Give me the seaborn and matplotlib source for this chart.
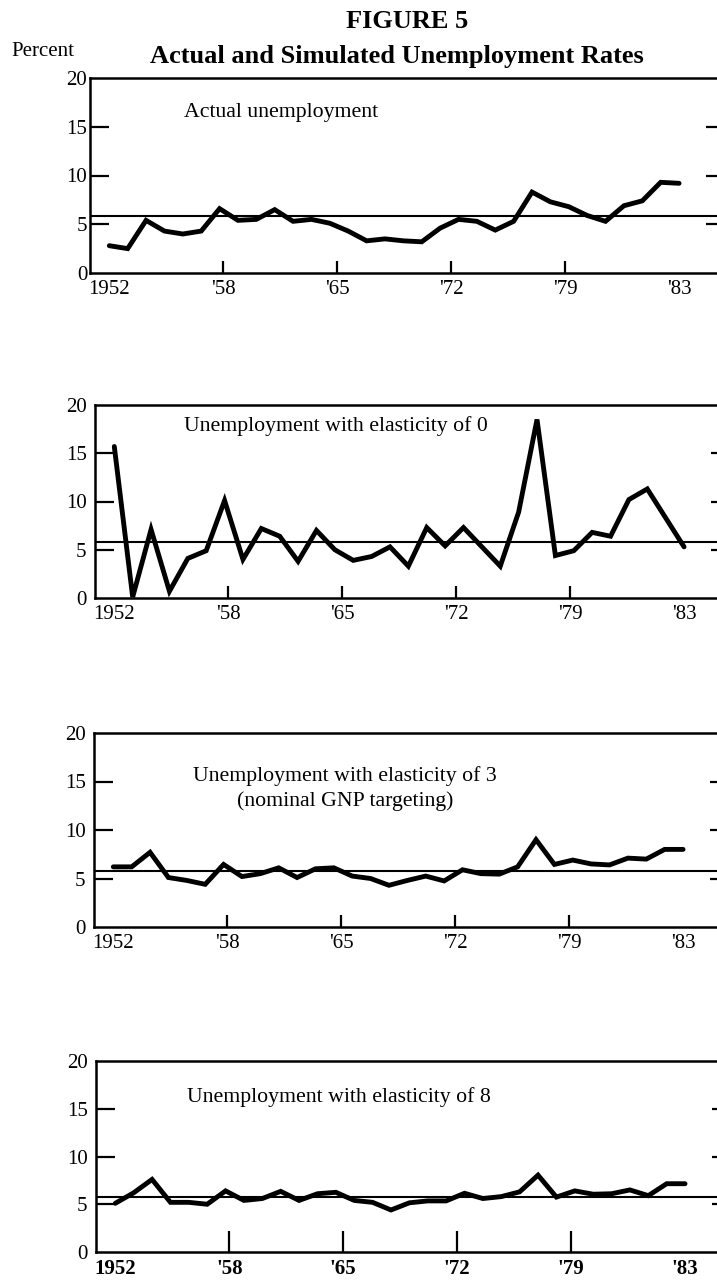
import numpy as np
import pandas as pd
import matplotlib
matplotlib.use("Agg")
import matplotlib.pyplot as plt
import seaborn as sns

# Annual unemployment rates, percent, 1952-1983
years = list(range(1952, 1984))
actual = [2.8, 2.5, 5.4, 4.3, 4.0, 4.3, 6.6, 5.4, 5.5, 6.5, 5.3, 5.5, 5.1, 4.3, 3.3, 3.5,
          3.3, 3.2, 4.6, 5.5, 5.3, 4.4, 5.3, 8.3, 7.3, 6.8, 5.9, 5.3, 6.9, 7.4, 9.3, 9.2]
elasticity_0 = [15.7, 0.1, 7.1, 0.7, 4.1, 4.9, 10.1, 4.0, 7.2, 6.4, 3.8, 7.0, 5.0, 3.9, 4.3, 5.3,
                3.3, 7.3, 5.4, 7.3, 5.3, 3.3, 8.9, 18.5, 4.4, 4.9, 6.8, 6.4, 10.2, 11.3, 8.3, 5.3]
elasticity_3 = [6.2, 6.2, 7.7, 5.1, 4.8, 4.4, 6.45, 5.2, 5.5, 6.1, 5.1, 6.0, 6.1, 5.25, 5.0, 4.3,
                4.8, 5.25, 4.75, 5.9, 5.5, 5.45, 6.2, 9.0, 6.45, 6.9, 6.5, 6.4, 7.1, 7.0, 8.0, 8.0]
elasticity_8 = [5.1, 6.2, 7.6, 5.2, 5.2, 5.0, 6.4, 5.4, 5.6, 6.35, 5.4, 6.1, 6.25, 5.4, 5.2, 4.4,
                5.15, 5.35, 5.35, 6.15, 5.6, 5.8, 6.3, 8.05, 5.75, 6.4, 6.05, 6.1, 6.5, 5.9, 7.15, 7.15]
benchmark_rate = 5.8

panel_titles = [
    ["Actual unemployment"],
    ["Unemployment with elasticity of 0"],
    ["Unemployment with elasticity of 3", "(nominal GNP targeting)"],
    ["Unemployment with elasticity of 8"],
]
year_tick_labels = ["1952", "'58", "'65", "'72", "'79", "'83"]
y_tick_values = [0, 5, 10, 15, 20]

sns.set_style("white")
plt.rcParams["font.family"] = ["Liberation Serif", "DejaVu Serif"]
plt.rcParams["axes.linewidth"] = 1.8

W, H = 717, 1280
fig = plt.figure(figsize=(W / 100, H / 100), dpi=100)


def px_box(left, top, bottom, width=635):
    return [left / W, 1 - bottom / H, width / W, (bottom - top) / H]


# (left, top, bottom) of each panel in pixels, title anchor, x-tick length
layout = [
    dict(box=(90, 78, 273), title_xy=(281, 113), xtick_len=8.5, ylab_pad=2, bold=False),
    dict(box=(95, 405, 598), title_xy=(336, 426), xtick_len=9, ylab_pad=6, bold=False),
    dict(box=(94, 733, 927), title_xy=(345, 776), xtick_len=8.5, ylab_pad=6, bold=False),
    dict(box=(96, 1061, 1252), title_xy=(339, 1097), xtick_len=15, ylab_pad=6, bold=True),
]
series = [actual, elasticity_0, elasticity_3, elasticity_8]
x_ticks = np.linspace(years[0], years[-1], len(year_tick_labels))

for data, titles, lay in zip(series, panel_titles, layout):
    ax = fig.add_axes(px_box(*lay["box"]))
    df = pd.DataFrame({"year": years, "rate": data})
    sns.lineplot(data=df, x="year", y="rate", ax=ax, color="black", linewidth=3.5,
                 solid_joinstyle="miter")
    ax.axhline(benchmark_rate, color="black", linewidth=1.5)

    ax.set_xlim(1950.95, 1985.5)
    ax.set_ylim(0, 20)
    ax.set_xlabel("")
    ax.set_ylabel("")
    for s in ax.spines.values():
        s.set_visible(True)
        s.set_color("black")
        s.set_linewidth(1.8)

    ax.set_xticks(x_ticks)
    ax.set_xticklabels(year_tick_labels, fontsize=15,
                       fontweight="bold" if lay["bold"] else "normal")
    ax.set_yticks(y_tick_values)
    ax.set_yticklabels([str(v) for v in y_tick_values], fontsize=15)
    ax.tick_params(axis="x", direction="in", length=lay["xtick_len"], width=1.6,
                   bottom=True, top=False, pad=5, colors="black")
    ax.tick_params(axis="y", direction="in", length=14, width=1.6,
                   left=True, right=True, labelleft=True, labelright=False,
                   pad=lay["ylab_pad"], colors="black")
    xt = ax.xaxis.get_major_ticks()
    for i in (0, len(xt) - 1):
        xt[i].tick1line.set_visible(False)
    yt = ax.yaxis.get_major_ticks()
    for i in (0, len(yt) - 1):
        yt[i].tick1line.set_visible(False)
        yt[i].tick2line.set_visible(False)
    ax.grid(False)

    tx, ty = lay["title_xy"]
    for k, line in enumerate(titles):
        fig.text(tx / W, 1 - (ty + 25 * k) / H, line, ha="center", va="center",
                 fontsize=15.7, color="black")

fig.text(407 / W, 1 - 22 / H, "FIGURE 5", ha="center", va="center",
         fontsize=19, fontweight="bold", color="black")
fig.text(397 / W, 1 - 57 / H, "Actual and Simulated Unemployment Rates", ha="center",
         va="center", fontsize=19, fontweight="bold", color="black")
fig.text(43 / W, 1 - 52 / H, "Percent", ha="center", va="center", fontsize=15,
         color="black")

fig.savefig("out.png", dpi=100, facecolor="white")
